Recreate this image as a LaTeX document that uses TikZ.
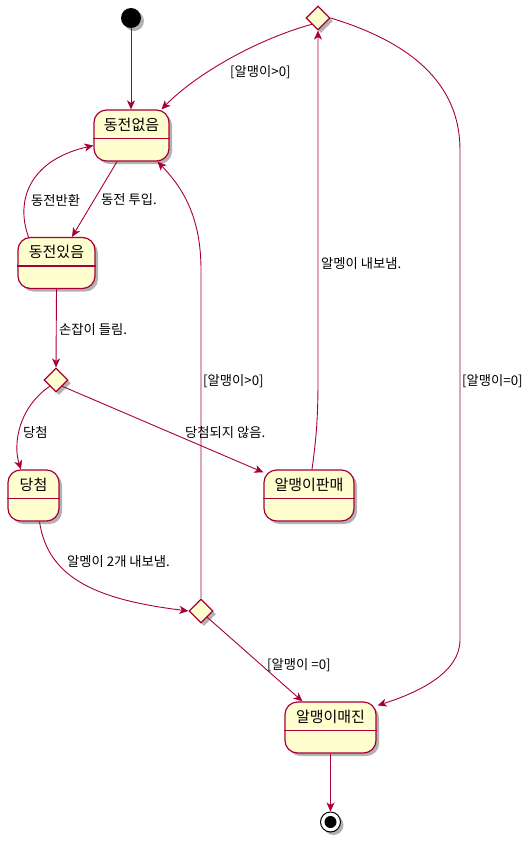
\documentclass[tikz,border=0pt]{standalone}
\usepackage{fontspec}
\setmainfont{Noto Sans CJK KR}
\usetikzlibrary{arrows.meta,shapes.geometric,shadows}
\definecolor{umlborder}{HTML}{A80036}
\definecolor{umlfill}{HTML}{FEFECE}
\tikzset{
  umlshadow/.style={drop shadow={shadow xshift=3pt,shadow yshift=-3pt,opacity=0.3,fill=black}},
  statebox/.style={draw=umlborder,fill=umlfill,line width=1.2pt,rounded corners=12.5pt,
    minimum height=51pt,inner sep=0pt,umlshadow},
  stitle/.style={font=\fontsize{15}{17}\selectfont,inner sep=0pt},
  sepline/.style={draw=umlborder,line width=1.2pt},
  choice/.style={diamond,draw=umlborder,fill=umlfill,line width=1.2pt,minimum width=24pt,
    minimum height=24pt,inner sep=0pt,aspect=1,umlshadow},
  edge/.style={draw=umlborder,line width=0.9pt,-{Stealth[length=9pt,width=8pt,inset=2.5pt]}},
  lbl/.style={anchor=west,inner sep=0pt,font=\fontsize{13.3}{15}\selectfont},
  initstate/.style={circle,fill=black,minimum size=20pt,inner sep=0pt,umlshadow},
  finalstate/.style={circle,draw=black,fill=white,line width=1pt,minimum size=20pt,inner sep=0pt,umlshadow},
}
% state with a title compartment: name, x, y, width, title
\newcommand\umlstate[5]{%
  \node[statebox,minimum width=#4pt] (#1) at (#2,#3) {};
  \node[stitle] (#1-title) at ([yshift=-15pt]#1.north) {#5};
  \draw[sepline] ([yshift=-29pt]#1.north west) -- ([yshift=-29pt]#1.north east);}
\begin{document}
\begin{tikzpicture}[x=1pt,y=-1pt]
\useasboundingbox (0,0) rectangle (529,844);

% states
\node[initstate] (start) at (131,18) {};
\umlstate{nocoin}{131.5}{135.5}{75}{동전없음}
\umlstate{hascoin}{56.5}{263}{77}{동전있음}
\umlstate{win}{33.5}{495.5}{51}{당첨}
\umlstate{sold}{309}{495.5}{90}{알맹이판매}
\umlstate{soldout}{330.5}{727.5}{91}{알맹이매진}
\node[finalstate] (end) at (330.5,822) {};
\fill[black] (end.center) circle (6pt);

% choice points
\node[choice] (c1) at (56,380) {};
\node[choice] (c2) at (201,611) {};
\node[choice] (c3) at (318,18) {};

% transitions
\draw[edge] (start) -- (start |- nocoin.north);
\draw[edge] (c3.south west) .. controls (255,40) and (195,75) .. ([xshift=30pt]nocoin.north);
\draw[edge] (c3.east) .. controls (420,45) and (460,90) .. (460,150) -- (460,640)
  .. controls (460,672) and (420,692) .. ([shift={(1pt,-4pt)}]soldout.north east);
\draw[edge] ([xshift=-14.5pt]nocoin.south) -- ([xshift=15.5pt]hascoin.north);
\draw[edge] ([xshift=-28pt]hascoin.north) .. controls (15,200) and (30,160) .. ([yshift=-10pt]nocoin.west);
\draw[edge] (hascoin.south) -- (c1.north);
\draw[edge] (c1.south west) .. controls (18,408) and (13,445) .. ([xshift=-12.5pt]win.north);
\draw[edge] (c1.south east) -- ([yshift=-3pt]sold.north west);
\draw[edge] ([xshift=3pt]sold.north) .. controls (316,440) and (318,420) .. (318,380) -- (c3.south);
\draw[edge] ([xshift=6pt]win.south) .. controls (48,580) and (100,600) .. (c2.west);
\draw[edge] (c2.north) -- (201,270) .. controls (201,220) and (185,190) .. ([xshift=26pt]nocoin.south);
\draw[edge] (c2.south east) -- ([xshift=-28pt]soldout.north);
\draw[edge] (soldout.south) -- (end.north);

% transition labels
\node[lbl] (l1) at (230,72) {[알맹이>0]};
\node[lbl] (l2) at (101,200) {동전 투입.};
\node[lbl] (l3) at (31,200) {동전반환};
\node[lbl] (l4) at (59,330) {손잡이 들림.};
\node[lbl] (l5) at (23,432) {당첨};
\node[lbl] (l6) at (185,432) {당첨되지 않음.};
\node[lbl] (l7) at (203,381) {[알맹이>0]};
\node[lbl] (l8) at (462,381) {[알맹이=0]};
\node[lbl] (l9) at (321,264) {알멩이 내보냄.};
\node[lbl] (l10) at (67,562) {알멩이 2개 내보냄.};
\node[lbl] (l11) at (267,665) {[알맹이 =0]};
\end{tikzpicture}
\end{document}
